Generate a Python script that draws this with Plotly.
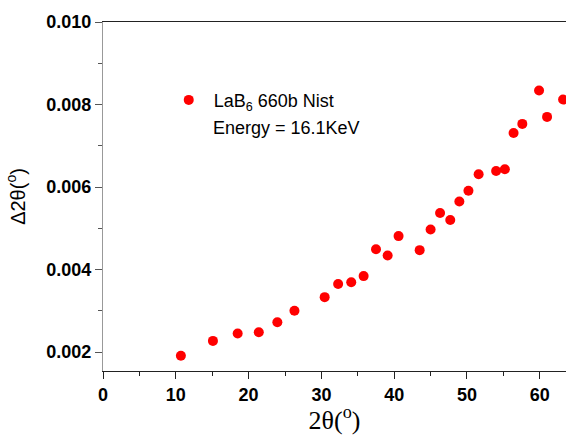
import plotly.graph_objects as go

two_theta = [10.7, 15.1, 18.5, 21.4, 23.95, 26.3, 30.45, 32.3, 34.1, 35.8, 37.5, 39.1,
             40.6, 43.5, 45.0, 46.3, 47.7, 48.95, 50.2, 51.6, 54.0, 55.2, 56.4, 57.6,
             59.9, 61.0, 63.2]
delta_2theta = [0.00191, 0.00227, 0.00245, 0.00248, 0.00272, 0.00300, 0.00333, 0.00365,
                0.00369, 0.00384, 0.00449, 0.00434, 0.00481, 0.00447, 0.00497, 0.00537,
                0.00520, 0.00565, 0.00591, 0.00631, 0.00639, 0.00643, 0.00731, 0.00753,
                0.00834, 0.00770, 0.00812]

x_ticks = [0, 10, 20, 30, 40, 50, 60]
y_ticks = [0.002, 0.004, 0.006, 0.008, 0.010]
y_tick_text = ["0.002", "0.004", "0.006", "0.008", "0.010"]

fig = go.Figure()
fig.add_trace(go.Scatter(
    x=two_theta, y=delta_2theta, mode="markers",
    marker=dict(color="#ff0000", size=10, symbol="circle"),
    name="\u00a0LaB<sub>6</sub> 660b Nist",
))

tick_font = dict(family="Liberation Sans", size=18, color="black", weight="bold")

fig.update_layout(
    width=566, height=435,
    margin=dict(l=103, r=0, t=22, b=64, autoexpand=False),
    paper_bgcolor="white", plot_bgcolor="white",
    showlegend=True,
    legend=dict(x=0.142, y=0.829, xanchor="left", yanchor="top",
                bgcolor="rgba(0,0,0,0)",
                font=dict(family="Liberation Sans", size=18, color="black")),
    annotations=[dict(text="Energy = 16.1KeV", xref="paper", yref="paper",
                      x=0.2333, y=0.696, xanchor="left", yanchor="middle",
                      showarrow=False,
                      font=dict(family="Liberation Sans", size=18, color="black"))],
)

fig.update_xaxes(
    automargin=False,
    range=[0, 63.6], tickvals=x_ticks, showgrid=False, zeroline=False,
    showline=True, linecolor="#222", linewidth=1.3, mirror=True,
    ticks="outside", ticklen=7, tickcolor="#222",
    tickfont=tick_font,
    minor=dict(dtick=5, tick0=0, ticks="outside", ticklen=4, tickcolor="#222"),
    title=dict(text="2θ(<sup>o</sup>)", font=dict(family="Liberation Serif", size=26, color="black")),
)
fig.update_yaxes(
    automargin=False,
    range=[0.00154, 0.0100], tickvals=y_ticks, ticktext=y_tick_text,
    showgrid=False, zeroline=False,
    showline=True, linecolor="#999", linewidth=1.3,
    ticks="outside", ticklen=7, tickcolor="#555",
    tickfont=tick_font,
    minor=dict(dtick=0.001, tick0=0, ticks="outside", ticklen=4, tickcolor="#555"),
    title=dict(text="Δ2θ(<sup>o</sup>)", font=dict(family="Liberation Sans", size=20, color="black")),
)

fig.write_html("out.html", config={"displayModeBar": False},
               post_script="document.body.style.margin='0';document.body.style.overflow='hidden';")
